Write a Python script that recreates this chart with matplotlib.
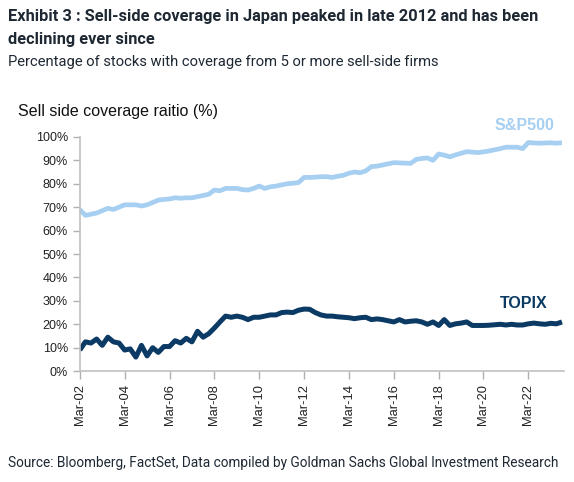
import matplotlib
matplotlib.use("Agg")
import matplotlib.pyplot as plt
import numpy as np

# quarterly readings, Mar-02 onwards
topix = [9, 12.5, 12, 13.7, 11, 14.5, 12.5, 12, 9, 9.5, 6, 11, 6.5, 10, 8, 10.5,
         10.5, 13, 12, 14, 12.5, 17, 14.5, 16, 18.4, 21, 23.5, 23, 23.5, 23, 22, 23,
         23, 23.5, 24, 24, 25, 25.2, 25, 26, 26.5, 26.4, 25, 24, 23.5, 23.5, 23.2, 23,
         22.8, 22.4, 22.8, 23, 22, 22.3, 22, 21.5, 21, 22, 21, 21.3, 21.5, 21, 20, 21,
         19.5, 22, 19.5, 20.2, 20.5, 21, 19.5, 19.5, 19.5, 19.6, 19.8, 20, 19.7, 20,
         19.7, 19.7, 20.2, 20.5, 20.2, 20, 20.4, 20.2, 21]
sp500 = [69, 66.5, 67, 67.5, 68.5, 69.5, 69, 70, 71, 71, 71, 70.5, 71, 72, 73, 73.3,
         73.5, 74, 73.8, 74, 74, 74.5, 75, 75.5, 77.3, 77, 78, 78, 78, 77.5, 77.3, 78,
         79, 78, 78.7, 79, 79.5, 80, 80.2, 80.5, 82.7, 82.7, 82.8, 83, 83, 82.7, 83.2,
         83.6, 84.5, 85, 84.7, 85.5, 87.3, 87.5, 88, 88.5, 89, 88.9, 88.8, 88.7, 90.4,
         90.8, 91, 90, 92.7, 92.2, 91.5, 92.3, 93, 93.7, 93.5, 93.3, 93.6, 94, 94.5, 95,
         95.6, 95.6, 95.6, 95, 97.6, 97.4, 97.3, 97.4, 97.5, 97.3, 97.5]
tick_labels = ["Mar-02", "Mar-04", "Mar-06", "Mar-08", "Mar-10", "Mar-12",
               "Mar-14", "Mar-16", "Mar-18", "Mar-20", "Mar-22"]

plt.rcParams["font.family"] = ["Liberation Sans", "DejaVu Sans"]
narrow = ["Roboto", "DejaVu Sans"]

fig = plt.figure(figsize=(5.74, 4.82), dpi=100)
ax = fig.add_axes([0.139, 0.230, 0.844, 0.486])

q = np.arange(len(topix))
ax.plot(q, sp500, color="#a6cff1", lw=3.4, solid_capstyle="butt")
ax.plot(q, topix, color="#0b3a64", lw=3.6, solid_capstyle="butt")

ax.set_ylim(0, 100)
ax.set_xlim(0, 86.4)
ax.set_yticks(np.arange(0, 101, 10))
ax.set_yticklabels([f"{v}%" for v in range(0, 101, 10)], fontsize=9)
ax.set_xticks(np.arange(0, len(tick_labels) * 8, 8))
ax.set_xticklabels(tick_labels, rotation=90, fontsize=9.3)
ax.tick_params(axis="both", colors="#b0b0b0", labelcolor="#222222", length=5, width=1)
ax.tick_params(axis="x", length=6)
for s in ["top", "right"]:
    ax.spines[s].set_visible(False)
for s in ["left", "bottom"]:
    ax.spines[s].set_color("#c0c0c0")
    ax.spines[s].set_linewidth(1.2)

ax.text(0.98, 1.05, "S&P500", transform=ax.transAxes, ha="right", va="center",
        color="#a6cff1", fontsize=11.5, fontweight="bold")
ax.text(0.965, 0.29, "TOPIX", transform=ax.transAxes, ha="right", va="center",
        color="#0b3a64", fontsize=11.5, fontweight="bold")

fig.text(0.032, 0.768, "Sell side coverage raitio (%)", fontsize=11.5, color="#111111",
         va="center")

fig.text(0.014, 0.965, "Exhibit 3 : Sell-side coverage in Japan peaked in late 2012 and has been",
         family=narrow, fontsize=11.8, fontweight="bold", color="#1e2833", va="center")
fig.text(0.014, 0.918, "declining ever since",
         family=narrow, fontsize=11.8, fontweight="bold", color="#1e2833", va="center")
fig.text(0.014, 0.872, "Percentage of stocks with coverage from 5 or more sell-side firms",
         family=narrow, fontsize=10.6, color="#1e2833", va="center")
fig.text(0.014, 0.040, "Source: Bloomberg, FactSet, Data compiled by Goldman Sachs Global Investment Research",
         family=narrow, fontsize=9.8, color="#1e2833", va="center")

fig.savefig("out.png", dpi=100)
